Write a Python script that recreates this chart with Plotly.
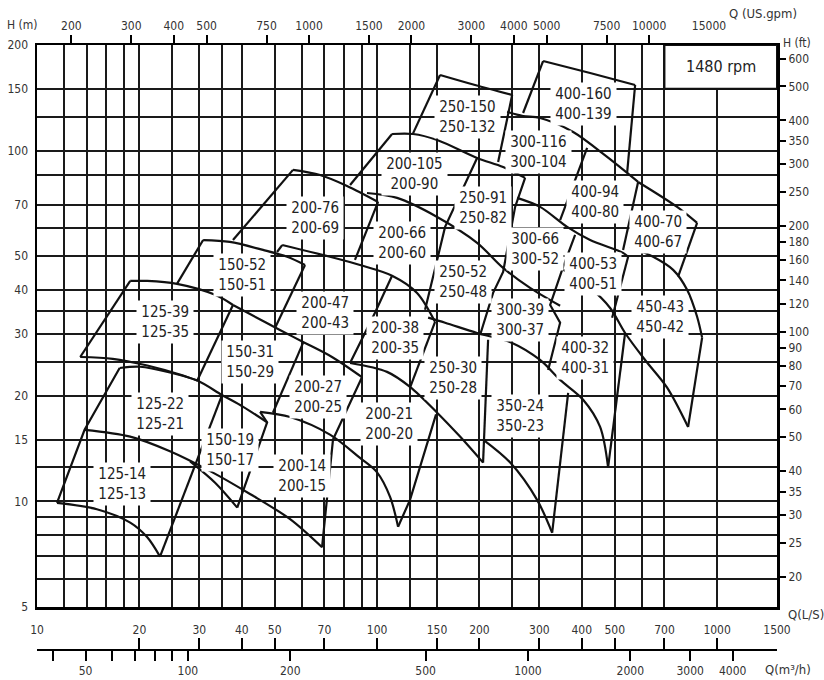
import numpy as np
import plotly.graph_objects as go

# ---------------- axis tick values ----------------
q_ls_ticks = [10, 20, 30, 40, 50, 70, 100, 150, 200, 300, 400, 500, 700, 1000, 1500]
q_ls_grid = [12, 14, 16, 18, 25, 35, 60, 80, 90, 125, 250, 600]
h_m_ticks = [5, 10, 15, 20, 30, 40, 50, 70, 100, 150, 200]
h_m_grid = [6, 7, 8, 9, 12.5, 25, 35, 60, 85, 125]
h_ft_ticks = [20, 25, 30, 35, 40, 50, 60, 70, 80, 90, 100, 120, 140, 160, 180, 200,
              250, 300, 350, 400, 500, 600]
q_gpm_ticks = [200, 300, 400, 500, 750, 1000, 1500, 2000, 3000, 4000, 5000, 7500, 10000, 15000]
q_gpm_marked = [200, 300, 400, 500, 750, 1000, 1500, 2000, 3000, 4000, 5000, 7500, 10000]
q_m3h_ticks = [40, 50, 60, 70, 80, 90, 100, 200, 500, 1000, 2000, 3000, 4000]
q_m3h_text = ['', '50', '', '', '', '', '100', '200', '500', '1000', '2000', '3000', '4000']

# ---------------- pump range curves (Q in L/s, H in m) ----------------
s125_39_left = [(13.4, 25.8), (18.8, 42.5)]
s125_39_top = [(18.8, 42.5), (21.1, 42.5), (25.8, 41.7), (33.4, 38.8), (37.7, 36.3)]
s125_39_bottom = [(13.4, 25.8), (16.7, 25.5), (21.1, 24.4), (26.3, 23.0), (29.6, 22.1)]
s125_left = [(11.45, 9.9), (13.8, 16.0), (17.5, 24.0)]
s125_22_top = [(17.5, 24.0), (20.1, 24.2), (24.6, 23.3), (29.6, 22.1), (35.0, 20.1),
               (40.4, 18.6), (47.5, 16.8)]
s125_14_top = [(13.8, 16.0), (18.8, 15.3), (24.6, 13.9), (32.3, 12.2), (42.3, 10.5),
               (55.5, 8.9), (68.9, 7.4)]
s125_13_bottom = [(11.45, 9.9), (15.0, 9.5), (18.8, 8.7), (21.1, 7.9), (23.0, 6.96)]
s150_19_left = [(23.0, 6.96), (35.0, 20.1)]
s150_31_left = [(37.7, 36.3), (29.6, 22.1)]
s150_17_bottom = [(28.2, 13.0), (33.4, 11.3), (38.8, 9.6)]
s150_19_right = [(38.8, 9.6), (47.5, 16.8), (45.3, 18.0)]
s150_52_left = [(25.8, 41.7), (30.8, 55.6)]
s150_52_top = [(30.8, 55.6), (36.9, 54.9), (46.2, 52.1), (54.4, 49.8), (61.4, 47.2)]
s150_52_right = [(61.4, 47.2), (50.1, 31.2)]
s150_31_top = [(37.7, 36.3), (42.3, 34.2), (51.8, 30.8), (61.4, 28.3), (73.7, 25.8), (90.3, 22.6)]
s150_31_right = [(60.6, 28.3), (49.4, 17.9)]
s200_76_left = [(37.7, 55.6), (56.6, 88.1)]
s200_76_top = [(56.6, 88.1), (68.0, 85.2), (81.6, 79.3), (100.7, 71.4)]
s200_76_right = [(100.7, 71.4), (86.1, 48.8)]
s200_47_kink = [(50.8, 51.4), (52.6, 53.8)]
s200_47_top = [(52.6, 53.8), (72.7, 49.8), (89.1, 47.2), (110.7, 44.0), (131.1, 39.3), (148.1, 32.5)]
s200_47_right = [(110.7, 44.0), (98.6, 34.5), (83.3, 24.8)]
s200_14_top = [(45.3, 18.0), (55.5, 17.4), (72.7, 15.5), (89.1, 13.3), (100.0, 12.1),
               (109.2, 10.3), (115.3, 8.47)]
s200_21_left = [(68.9, 7.4), (74.2, 15.0), (90.3, 22.6)]
s200_35_bottom = [(83.3, 24.8), (107.0, 23.4), (125.0, 21.2), (150.2, 17.9), (175.4, 15.3), (205.0, 12.9)]
s200_38_right = [(148.1, 32.5), (125.0, 21.1)]
s200_21_right = [(115.3, 8.47), (125.0, 10.1), (149.1, 17.7)]
s200_105_left = [(83.3, 79.8), (110.7, 111.5)]
s200_105_top = [(110.7, 111.5), (127.6, 111.5), (150.2, 107.2), (196.9, 95.3), (234.8, 89.8), (272.5, 83.6)]
s200_105_right = [(196.9, 95.3), (158.5, 60.6), (150.2, 48.8), (138.4, 35.2)]
s200_66_top = [(93.4, 75.7), (114.5, 73.3), (150.2, 64.7), (196.9, 54.6), (234.8, 46.3),
               (281.8, 40.6), (345.4, 36.1)]
s250_150_left = [(127.6, 112.0), (153.2, 164.3)]
s250_150_top = [(153.2, 164.3), (194.2, 153.8), (249.6, 144.0)]
s250_150_right = [(249.6, 144.0), (227.0, 92.8)]
s250_91_right = [(272.5, 83.6), (254.7, 69.1), (234.8, 45.1), (219.4, 39.3), (200.9, 29.8)]
s250_30_top = [(141.3, 33.4), (158.5, 32.3), (196.9, 30.2), (249.6, 28.3), (301.6, 25.3),
               (345.4, 22.2), (403.6, 19.5), (452.8, 16.3), (478.0, 12.5)]
s250_30_right = [(212.1, 28.9), (205.0, 12.9)]
s350_23_bottom = [(205.0, 15.0), (246.3, 12.9), (295.5, 10.1), (327.3, 8.14)]
s350_23_right = [(327.3, 8.14), (364.7, 20.4)]
s300_116_top = [(241.3, 128.9), (268.8, 125.5), (301.6, 123.9), (377.3, 113.0), (474.8, 95.9), (585.7, 81.4)]
s400_160_left = [(268.8, 128.0), (307.8, 180.0)]
s400_160_top = [(307.8, 180.0), (423.2, 166.4), (574.0, 153.8)]
s400_160_right = [(574.0, 153.8), (543.7, 86.4)]
s400_94_left = [(414.7, 101.8), (345.4, 63.4)]
s400_94_right = [(585.7, 81.4), (529.0, 52.1)]
s400_70_top = [(585.7, 81.4), (762.7, 69.1), (873.3, 62.2)]
s400_70_right = [(873.3, 62.2), (767.9, 43.7)]
s400_80_bottom = [(258.2, 73.3), (301.6, 69.1), (362.2, 60.6), (423.2, 55.6), (529.0, 51.1), (547.4, 49.8)]
s400_53_right = [(547.4, 49.8), (491.2, 33.4)]
s400_67_bottom = [(554.8, 53.1), (648.4, 49.8), (742.4, 45.7), (816.1, 40.1), (873.3, 33.6), (903.4, 29.3)]
s450_43_right = [(903.4, 29.3), (821.6, 16.3)]
s400_51_bottom = [(345.4, 46.3), (423.2, 40.6), (484.6, 35.6), (536.3, 30.2), (614.0, 25.3),
                  (712.8, 21.1), (821.6, 16.3)]
s400_32_right = [(536.3, 30.2), (478.0, 12.5)]
s400_53_left = [(382.3, 57.5), (352.5, 46.6), (322.9, 36.3), (345.4, 32.3), (318.5, 23.7)]

# ---------------- range labels ----------------
label_upper = ['125-39', '125-22', '125-14', '150-52', '150-31', '150-19', '200-76', '200-47',
               '200-27', '200-14', '200-105', '200-66', '200-38', '200-21', '250-150', '250-91',
               '250-52', '250-30', '300-116', '300-66', '300-39', '350-24', '400-160', '400-94',
               '400-53', '400-32', '400-70', '450-43']
label_lower = ['125-35', '125-21', '125-13', '150-51', '150-29', '150-17', '200-69', '200-43',
               '200-25', '200-15', '200-90', '200-60', '200-35', '200-20', '250-132', '250-82',
               '250-48', '250-28', '300-104', '300-52', '300-37', '350-23', '400-139', '400-80',
               '400-51', '400-31', '400-67', '450-42']
label_q = [23.8, 23.0, 17.8, 40.1, 42.3, 36.9, 65.7, 70.3, 67.1, 60.0, 128.5, 118.5, 113.0, 108.5,
           184.0, 205.0, 179.0, 167.3, 297.6, 291.6, 263.4, 263.4, 403.6, 437.7, 431.9, 409.2,
           670.8, 679.9]
label_h = [32.4, 17.8, 11.2, 44.1, 25.0, 14.0, 64.1, 34.5, 19.9, 11.8, 85.8, 54.4, 29.2, 16.6,
           124.7, 68.4, 42.1, 22.5, 98.8, 52.5, 32.9, 17.5, 135.8, 71.2, 44.4, 25.7, 58.5, 33.6]

speed_box_q = [700, 1500, 1500, 700, 700]
speed_box_h = [150, 150, 200, 200, 150]
speed_text = '1480 rpm'

# ---------------- build figure ----------------
smooth_strokes = [s125_39_top, s125_39_bottom, s125_22_top, s125_14_top, s125_13_bottom,
                  s150_17_bottom, s150_52_top, s150_31_top, s200_76_top, s200_47_top,
                  s200_14_top, s200_35_bottom, s200_105_top, s200_66_top, s250_150_top,
                  s250_30_top, s350_23_bottom, s300_116_top, s400_160_top, s400_70_top,
                  s400_80_bottom, s400_67_bottom, s400_51_bottom]
straight_strokes = [s125_39_left, s125_left, s150_19_left, s150_31_left, s150_19_right,
                    s150_52_left, s150_52_right, s150_31_right, s200_76_left, s200_76_right,
                    s200_47_kink, s200_47_right, s200_21_left, s200_38_right, s200_21_right,
                    s200_105_left, s200_105_right, s250_150_left, s250_150_right, s250_91_right,
                    s250_30_right, s350_23_right, s400_160_left, s400_160_right, s400_94_left,
                    s400_94_right, s400_70_right, s400_53_right, s450_43_right, s400_32_right,
                    s400_53_left]

NARROW = 'Liberation Sans Narrow, Arial Narrow, DejaVu Sans Condensed, sans-serif'
LINE_C = '#111111'
GRID_C = '#1a1a1a'
GRID_W = 2
TXT_C = '#333333'

fig = go.Figure()

fig.add_trace(go.Scatter(x=speed_box_q, y=speed_box_h, mode='lines', fill='toself',
                         fillcolor='white', line=dict(color=LINE_C, width=2),
                         hoverinfo='skip', showlegend=False))

for stroke, shape in [(s, 'spline') for s in smooth_strokes] + [(s, 'linear') for s in straight_strokes]:
    q, h = zip(*stroke)
    fig.add_trace(go.Scatter(x=list(q), y=list(h), mode='lines',
                             line=dict(color=LINE_C, width=2.2, shape=shape, smoothing=0.9),
                             hoverinfo='skip', showlegend=False))

# invisible traces so that every secondary axis is drawn
for xa, ya in [('x2', 'y'), ('x3', 'y'), ('x4', 'y'), ('x', 'y2')]:
    fig.add_trace(go.Scatter(x=[100], y=[20], xaxis=xa, yaxis=ya, mode='markers',
                             marker=dict(opacity=0), hoverinfo='skip', showlegend=False))

annotations = []
for up, lo, q, h in zip(label_upper, label_lower, label_q, label_h):
    annotations.append(dict(x=np.log10(q), y=np.log10(h), xref='x', yref='y',
                            text=f'{up}<br>{lo}', showarrow=False, bgcolor='white',
                            width=8.4 * len(up) + 6, height=42, borderpad=0,
                            font=dict(family=NARROW, size=15, color='#222222')))
annotations.append(dict(x=np.log10(np.sqrt(700 * 1500)), y=np.log10(np.sqrt(150 * 200)),
                        xref='x', yref='y', text=speed_text, showarrow=False,
                        font=dict(family=NARROW, size=16, color='#222222')))

W, H = 824, 680
ML, MR, MT, MB = 37, 47, 45, 30
PW, PH = W - ML - MR, H - MT - MB


def px(xp):
    return (xp - ML) / PW


def py(yp):
    return (H - MB - yp) / PH


for text, xp, yp, size in [('H (m)', 22, 25, 12), ('Q (US.gpm)', 763, 13, 13),
                           ('H (ft)', 797, 43, 12), ('Q(L/S)', 806, 614, 13),
                           ('Q(m³/h)', 788, 669, 13)]:
    annotations.append(dict(x=px(xp), y=py(yp), xref='paper', yref='paper', text=text,
                            showarrow=False, xanchor='center', yanchor='middle',
                            font=dict(family=NARROW, size=size, color=TXT_C)))

xr = [1, np.log10(1500)]
yr = [np.log10(5), np.log10(200)]
tickfont = dict(family=NARROW, size=12, color=TXT_C)
ydom = [(H - MB - 607) / PH, 1]

fig.update_layout(
    width=W, height=H, margin=dict(l=ML, r=MR, t=MT, b=MB, autoexpand=False),
    paper_bgcolor='white', plot_bgcolor='white', showlegend=False,
    annotations=annotations,
    xaxis=dict(type='log', range=xr, tickmode='array', tickvals=q_ls_ticks,
               ticktext=[str(v) for v in q_ls_ticks], ticks='outside', ticklen=10,
               tickcolor='rgba(0,0,0,0)', tickfont=tickfont,
               showgrid=True, gridcolor=GRID_C, gridwidth=GRID_W,
               minor=dict(tickmode='array', tickvals=q_ls_grid, showgrid=True,
                          gridcolor=GRID_C, gridwidth=GRID_W, ticks=''),
               showline=True, linecolor='black', linewidth=2.5, mirror=True,
               zeroline=False, anchor='y'),
    yaxis=dict(type='log', range=yr, domain=ydom, tickmode='array', tickvals=h_m_ticks,
               ticktext=[str(v) for v in h_m_ticks], ticks='outside', ticklen=4,
               tickcolor='rgba(0,0,0,0)', tickfont=tickfont,
               showgrid=True, gridcolor=GRID_C, gridwidth=GRID_W,
               minor=dict(tickmode='array', tickvals=h_m_grid, showgrid=True,
                          gridcolor=GRID_C, gridwidth=GRID_W, ticks=''),
               showline=True, linecolor='black', linewidth=2.5, mirror=True,
               zeroline=False, anchor='x'),
    xaxis2=dict(type='log', range=xr, overlaying='x', anchor='free', position=0, side='bottom',
                tickmode='array', tickvals=q_ls_ticks, ticks='inside', ticklen=11, tickwidth=2,
                tickcolor='black', showticklabels=False, showline=True, linecolor='black',
                linewidth=2, showgrid=False, zeroline=False),
    xaxis3=dict(type='log', range=xr, overlaying='x', anchor='free', position=0, side='bottom',
                tickmode='array', tickvals=[v / 3.6 for v in q_m3h_ticks], ticktext=q_m3h_text,
                ticks='outside', ticklen=10, tickwidth=2, tickcolor='black', tickfont=tickfont,
                showline=False, showgrid=False, zeroline=False),
    xaxis4=dict(type='log', range=xr, overlaying='x', anchor='y', side='top',
                tickmode='array', tickvals=[v * 0.0630902 for v in q_gpm_ticks],
                ticktext=[str(v) for v in q_gpm_ticks], ticks='outside', ticklen=9,
                tickcolor='rgba(0,0,0,0)', tickfont=tickfont,
                minor=dict(tickmode='array', tickvals=[v * 0.0630902 for v in q_gpm_marked],
                           ticks='outside', ticklen=9, tickwidth=2, tickcolor='black',
                           showgrid=False),
                showline=False, showgrid=False, zeroline=False),
    yaxis2=dict(type='log', range=yr, overlaying='y', anchor='x', side='right',
                tickmode='array', tickvals=[v * 0.3048 for v in h_ft_ticks],
                ticktext=[str(v) for v in h_ft_ticks], ticks='outside', ticklen=8, tickwidth=2,
                tickcolor='black', tickfont=tickfont, showline=False, showgrid=False,
                zeroline=False),
)

fig.write_html('out.html', config={'displayModeBar': False, 'staticPlot': True},
               post_script="document.body.style.margin='0';document.body.style.overflow='hidden';")
